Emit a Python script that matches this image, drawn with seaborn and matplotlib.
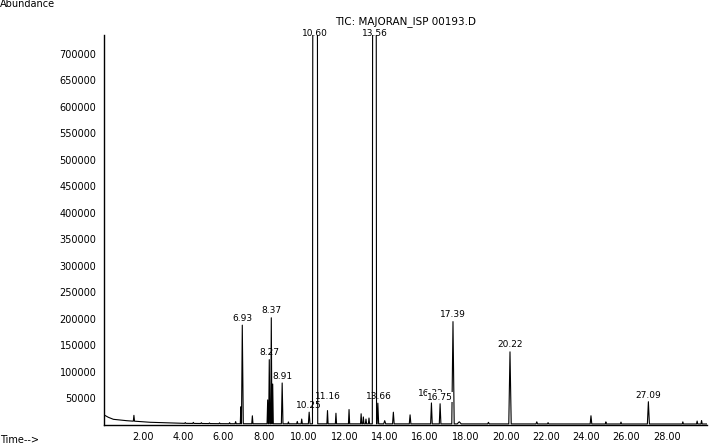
import numpy as np
import pandas as pd
import matplotlib
matplotlib.use("Agg")
import matplotlib.pyplot as plt
import seaborn as sns
from matplotlib.ticker import MultipleLocator, FixedLocator, FuncFormatter

# ---- data ----
# baseline (time in min, abundance)
baseline_t = [0.07, 0.28, 0.53, 1.19, 2.35, 4.0, 6.0, 10.0, 15.0, 20.0, 25.0, 30.0]
baseline_y = [18000, 13600, 9800, 7200, 4200, 2200, 1500, 1300, 1200, 1100, 1000, 1000]

# narrow peaks: retention time, height above baseline, half-width (min)
peak_t = [1.55, 4.1, 4.5, 4.9, 5.3, 5.8, 6.3, 6.6, 6.86, 6.93, 7.43, 8.19, 8.27, 8.37, 8.44,
          8.91, 9.22, 9.66, 9.88, 10.25, 11.16, 11.58, 12.23, 12.83, 12.94, 13.07, 13.22,
          13.66, 14.0, 14.43, 15.26, 16.32, 16.75, 17.39, 17.7, 19.15, 20.22, 21.55, 22.11,
          24.24, 24.98, 25.73, 27.09, 28.8, 29.51, 29.73]
peak_h = [11000, 1500, 2000, 1500, 1200, 1500, 2000, 4000, 32000, 186000, 15000, 45000, 121000, 200000, 75000,
          77000, 3500, 4500, 9000, 22000, 25000, 20000, 27000, 19000, 13000, 9000, 11000,
          39000, 6000, 22000, 17000, 39500, 38000, 193000, 4000, 3000, 136000, 4000, 2500,
          15500, 4000, 3500, 42000, 4000, 5500, 6500]
peak_w = [0.03, 0.03, 0.03, 0.03, 0.03, 0.03, 0.03, 0.03, 0.03, 0.05, 0.03, 0.03, 0.03, 0.03, 0.03,
          0.04, 0.03, 0.03, 0.03, 0.04, 0.03, 0.03, 0.03, 0.03, 0.03, 0.03, 0.03,
          0.04, 0.05, 0.04, 0.04, 0.04, 0.04, 0.06, 0.1, 0.04, 0.06, 0.04, 0.03,
          0.04, 0.03, 0.03, 0.05, 0.03, 0.03, 0.03]

# overloaded (off-scale) peaks: start and end of the flat top
sat_start = [10.43, 13.40]
sat_end = [10.66, 13.58]
sat_h = 790000

# labelled retention times: label, time, label anchor height
label_text = ["6.93", "8.27", "8.37", "8.91", "10.25", "10.60", "11.16", "13.56", "13.66",
              "16.32", "16.75", "17.39", "20.22", "27.09"]
label_t = [6.93, 8.27, 8.37, 8.91, 10.25, 10.545, 11.16, 13.49, 13.72,
           16.30, 16.75, 17.39, 20.22, 27.09]
label_y = [188000, 123000, 202000, 79000, 24000, 726000, 40000, 726000, 40000,
           46000, 39000, 195000, 138000, 43000]

ytick_vals = [50000, 100000, 150000, 200000, 250000, 300000, 350000, 400000,
              450000, 500000, 550000, 600000, 650000, 700000]
xtick_vals = [2, 4, 6, 8, 10, 12, 14, 16, 18, 20, 22, 24, 26, 28]

# ---- build the trace from the vertices ----
pts = list(zip(baseline_t, baseline_y))
for t, h, w in zip(peak_t, peak_h, peak_w):
    b = float(np.interp(t, baseline_t, baseline_y))
    pts += [(t - w, b), (t, b + h), (t + w, b)]
for s, e in zip(sat_start, sat_end):
    b = float(np.interp(s, baseline_t, baseline_y))
    pts += [(s - 0.015, b), (s, sat_h), (e, sat_h), (e + 0.015, b)]
pts.sort(key=lambda p: p[0])
df = pd.DataFrame(pts, columns=["Time", "Abundance"])

# ---- plot ----
sns.set_style("white")
plt.rcParams["font.family"] = ["DejaVu Sans"]
fig = plt.figure(figsize=(7.25, 4.47), dpi=100)
ax = fig.add_axes([104 / 725, 1 - 424.5 / 447, (707 - 104) / 725, (424.5 - 35) / 447])
sns.lineplot(data=df, x="Time", y="Abundance", ax=ax, color="black", lw=0.8,
             sort=False, estimator=None)
ax.set_xlim(0.065, 30.0)
ax.set_ylim(0, 735000)
ax.set_xlabel("")
ax.set_ylabel("")
for sp in ["top", "right"]:
    ax.spines[sp].set_visible(False)
for sp in ["left", "bottom"]:
    ax.spines[sp].set_color("black")
    ax.spines[sp].set_linewidth(1.0)

ax.yaxis.set_major_locator(FixedLocator(ytick_vals))
ax.yaxis.set_minor_locator(MultipleLocator(10000))
ax.yaxis.set_major_formatter(FuncFormatter(lambda v, p: f"{int(v)}"))
ax.xaxis.set_major_locator(FixedLocator(xtick_vals))
ax.xaxis.set_minor_locator(MultipleLocator(0.5))
ax.xaxis.set_major_formatter(FuncFormatter(lambda v, p: f"{v:.2f}"))
ax.tick_params(axis="both", which="major", direction="out", length=3.5, width=0.8,
               labelsize=7, colors="black", pad=2)
ax.tick_params(axis="both", which="minor", direction="out", length=2, width=0.6, colors="black")

for txt, t, y in zip(label_text, label_t, label_y):
    kw = {}
    if txt == "16.75":
        kw["bbox"] = dict(facecolor="white", edgecolor="none", pad=0.3)
    ax.annotate(txt, xy=(t, y), xytext=(0, 1.5), textcoords="offset points",
                ha="center", va="bottom", fontsize=6.5, color="black",
                annotation_clip=False, **kw)

fig.text(406 / 725, 1 - 22 / 447, "TIC: MAJORAN_ISP 00193.D", ha="center", va="center",
         fontsize=7.5, color="black")
fig.text(0.0, 1 - 4 / 447, "Abundance", ha="left", va="center", fontsize=7, color="black")
fig.text(0.0, 1 - 440 / 447, "Time-->", ha="left", va="center", fontsize=7, color="black")

fig.savefig("out.png", dpi=100, facecolor="white")
